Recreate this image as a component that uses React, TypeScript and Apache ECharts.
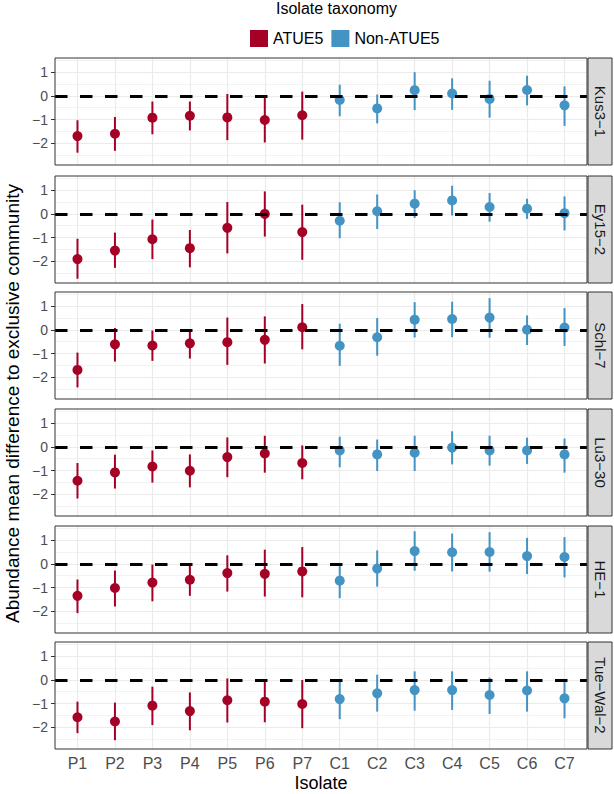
import React, { useEffect, useRef } from "react";
import * as echarts from "echarts";

const categories = ["P1", "P2", "P3", "P4", "P5", "P6", "P7", "C1", "C2", "C3", "C4", "C5", "C6", "C7"];
const panelNames = ["Kus3−1", "Ey15−2", "Schl−7", "Lu3−30", "HE−1", "Tue−Wal−2"];
const groupNames = ["ATUE5", "Non-ATUE5"];
const yTicks = [-2, -1, 0, 1];
const yMinor = [-2.5, -1.5, -0.5, 0.5, 1.5];

const kusMean = [-1.70, -1.60, -0.92, -0.84, -0.91, -1.02, -0.82, -0.17, -0.53, 0.24, 0.10, -0.13, 0.25, -0.40];
const kusLow = [-2.40, -2.32, -1.62, -1.46, -1.87, -1.97, -1.85, -0.86, -1.16, -0.60, -0.59, -0.92, -0.40, -1.27];
const kusHigh = [-1.03, -0.89, -0.24, -0.24, 0.08, -0.01, 0.18, 0.47, 0.06, 1.00, 0.74, 0.64, 0.85, 0.40];

const eyMean = [-1.91, -1.55, -1.07, -1.45, -0.59, 0.00, -0.77, -0.29, 0.11, 0.43, 0.57, 0.29, 0.22, 0.03];
const eyLow = [-2.74, -2.28, -1.91, -2.26, -1.67, -0.96, -1.94, -1.03, -0.64, -0.17, -0.07, -0.33, -0.21, -0.70];
const eyHigh = [-1.05, -0.79, -0.24, -0.68, 0.50, 0.95, 0.39, 0.49, 0.82, 1.00, 1.19, 0.88, 0.64, 0.74];

const schlMean = [-1.69, -0.61, -0.66, -0.57, -0.52, -0.42, 0.11, -0.67, -0.31, 0.43, 0.46, 0.52, 0.01, 0.10];
const schlLow = [-2.43, -1.34, -1.31, -1.21, -1.48, -1.42, -0.82, -1.52, -1.09, -0.32, -0.31, -0.33, -0.64, -0.68];
const schlHigh = [-0.96, 0.08, -0.03, -0.03, 0.52, 0.57, 1.09, 0.26, 0.50, 1.17, 1.19, 1.34, 0.61, 0.92];

const luMean = [-1.43, -1.08, -0.83, -1.01, -0.43, -0.28, -0.68, -0.15, -0.32, -0.25, -0.03, -0.15, -0.15, -0.32];
const luLow = [-2.18, -1.76, -1.51, -1.71, -1.28, -1.09, -1.37, -0.86, -1.02, -1.02, -0.74, -0.79, -0.72, -1.09];
const luHigh = [-0.68, -0.33, -0.15, -0.32, 0.40, 0.47, 0.06, 0.43, 0.31, 0.47, 0.66, 0.47, 0.39, 0.35];

const heMean = [-1.35, -1.02, -0.79, -0.67, -0.39, -0.42, -0.32, -0.71, -0.20, 0.54, 0.49, 0.50, 0.33, 0.29];
const heLow = [-2.08, -1.80, -1.58, -1.35, -1.17, -1.38, -1.41, -1.45, -0.96, -0.29, -0.32, -0.33, -0.43, -0.57];
const heHigh = [-0.66, -0.28, -0.03, -0.07, 0.36, 0.60, 0.71, -0.08, 0.57, 1.38, 1.28, 1.34, 1.10, 1.13];

const tueMean = [-1.58, -1.76, -1.09, -1.32, -0.86, -0.92, -1.02, -0.81, -0.57, -0.43, -0.43, -0.64, -0.45, -0.78];
const tueLow = [-2.25, -2.55, -1.91, -2.13, -1.80, -1.79, -2.04, -1.66, -1.34, -1.30, -1.27, -1.44, -1.34, -1.62];
const tueHigh = [-0.92, -0.96, -0.29, -0.53, 0.06, -0.04, -0.01, -0.07, 0.22, 0.36, 0.36, 0.10, 0.36, -0.01];

const panelMeans = [kusMean, eyMean, schlMean, luMean, heMean, tueMean];
const panelLows = [kusLow, eyLow, schlLow, luLow, heLow, tueLow];
const panelHighs = [kusHigh, eyHigh, schlHigh, luHigh, heHigh, tueHigh];

const RED = "#A50026";
const BLUE = "#4393C3";
const FONT = "Liberation Sans";
const PANEL_LEFT = 55;
const PANEL_WIDTH = 532;
const PANEL_HEIGHT = 107;
const PANEL_TOPS = [58, 176, 292, 409, 526, 642];
const X_MIN = 0.4;
const X_MAX = 14.6;
const Y_MIN = -2.92;
const Y_MAX = 1.6;

function fmtNum(v: number) {
  return v < 0 ? "−" + Math.abs(v) : String(v);
}

export default function App() {
  const ref = useRef<HTMLDivElement>(null);
  useEffect(() => {
    if (!ref.current) return;
    const chart = echarts.init(ref.current, null, { renderer: "svg" });
    const xs = categories.map((_, j) => j + 1);
    const n = panelNames.length;
    const grids: any[] = [];
    const xAxes: any[] = [];
    const yAxes: any[] = [];
    const series: any[] = [];
    const graphics: any[] = [];

    for (let i = 0; i < n; i++) {
      const top = PANEL_TOPS[i];
      const last = i === n - 1;
      grids.push({ left: PANEL_LEFT, width: PANEL_WIDTH, top, height: PANEL_HEIGHT, show: false });
      xAxes.push({
        gridIndex: i,
        type: "value",
        min: X_MIN,
        max: X_MAX,
        axisLine: { show: false },
        splitLine: { show: false },
        axisTick: { show: last, customValues: xs, length: 4, lineStyle: { color: "#333333", width: 1 } },
        axisLabel: {
          show: last,
          customValues: xs,
          formatter: (v: number) => categories[Math.round(v) - 1] || "",
          fontSize: 16,
          color: "#4D4D4D",
          fontFamily: FONT,
          margin: 6,
        },
      });
      yAxes.push({
        gridIndex: i,
        type: "value",
        min: Y_MIN,
        max: Y_MAX,
        axisLine: { show: false },
        splitLine: { show: false },
        axisTick: { show: true, customValues: yTicks, length: 4, lineStyle: { color: "#333333", width: 1 } },
        axisLabel: {
          customValues: yTicks,
          formatter: (v: number) => fmtNum(v),
          fontSize: 14,
          color: "#4D4D4D",
          fontFamily: FONT,
          margin: 7,
        },
      });

      const gridLineData: any[] = [];
      yMinor.forEach((v) => gridLineData.push({ yAxis: v, lineStyle: { color: "#EDEDED", width: 0.7, type: "solid" } }));
      yTicks.forEach((v) => gridLineData.push({ yAxis: v, lineStyle: { color: "#EBEBEB", width: 1.2, type: "solid" } }));
      xs.forEach((v) => gridLineData.push({ xAxis: v, lineStyle: { color: "#EBEBEB", width: 1.2, type: "solid" } }));

      series.push({
        type: "line",
        xAxisIndex: i,
        yAxisIndex: i,
        data: [],
        silent: true,
        z: 1,
        markLine: {
          z: 1,
          silent: true,
          symbol: ["none", "none"],
          label: { show: false },
          emphasis: { disabled: true },
          data: gridLineData,
        },
      });

      const means = panelMeans[i];
      const lows = panelLows[i];
      const highs = panelHighs[i];

      series.push({
        type: "custom",
        xAxisIndex: i,
        yAxisIndex: i,
        silent: true,
        z: 2,
        data: xs.map((x, j) => [x, lows[j], highs[j]]),
        encode: { x: 0, y: [1, 2] },
        renderItem: (params: any, api: any) => {
          const x = api.value(0);
          const p1 = api.coord([x, api.value(1)]);
          const p2 = api.coord([x, api.value(2)]);
          return {
            type: "line",
            shape: { x1: p1[0], y1: p1[1], x2: p2[0], y2: p2[1] },
            style: { stroke: x <= 7 ? RED : BLUE, lineWidth: 2 },
          };
        },
      });

      series.push({
        type: "scatter",
        name: groupNames[0],
        xAxisIndex: i,
        yAxisIndex: i,
        z: 3,
        symbolSize: 10,
        itemStyle: { color: RED, opacity: 1 },
        data: xs.slice(0, 7).map((x, j) => [x, means[j]]),
      });
      series.push({
        type: "scatter",
        name: groupNames[1],
        xAxisIndex: i,
        yAxisIndex: i,
        z: 3,
        symbolSize: 10,
        itemStyle: { color: BLUE, opacity: 1 },
        data: xs.slice(7).map((x, j) => [x, means[j + 7]]),
      });

      series.push({
        type: "line",
        xAxisIndex: i,
        yAxisIndex: i,
        data: [],
        silent: true,
        z: 10,
        markLine: {
          z: 10,
          silent: true,
          symbol: ["none", "none"],
          label: { show: false },
          emphasis: { disabled: true },
          lineStyle: { color: "#000000", width: 3, type: [12.5, 12.5], cap: "butt" },
          data: [{ yAxis: 0 }],
        },
      });

      graphics.push({
        type: "rect",
        z: 100,
        silent: true,
        shape: { x: PANEL_LEFT, y: top, width: PANEL_WIDTH, height: PANEL_HEIGHT },
        style: { fill: "none", stroke: "#333333", lineWidth: 1 },
      });
      graphics.push({
        type: "rect",
        z: 100,
        silent: true,
        shape: { x: PANEL_LEFT + PANEL_WIDTH + 1, y: top, width: 24, height: PANEL_HEIGHT },
        style: { fill: "#D9D9D9", stroke: "#333333", lineWidth: 1 },
      });
      graphics.push({
        type: "text",
        z: 101,
        silent: true,
        x: PANEL_LEFT + PANEL_WIDTH + 13,
        y: top + PANEL_HEIGHT / 2,
        rotation: -Math.PI / 2,
        style: {
          text: panelNames[i],
          fontSize: 15,
          fontFamily: FONT,
          fill: "#1A1A1A",
          align: "center",
          verticalAlign: "middle",
          textAlign: "center",
          textVerticalAlign: "middle",
        },
      });
    }

    graphics.push({
      type: "text",
      x: 12,
      y: (PANEL_TOPS[0] + PANEL_TOPS[n - 1] + PANEL_HEIGHT) / 2,
      rotation: Math.PI / 2,
      silent: true,
      style: {
        text: "Abundance mean difference to exclusive community",
        fontSize: 19,
        fontFamily: FONT,
        fill: "#000000",
        align: "center",
        verticalAlign: "middle",
        textAlign: "center",
        textVerticalAlign: "middle",
      },
    });
    graphics.push({
      type: "text",
      x: PANEL_LEFT + PANEL_WIDTH / 2,
      y: 783,
      silent: true,
      style: {
        text: "Isolate",
        fontSize: 18,
        fontFamily: FONT,
        fill: "#000000",
        align: "center",
        verticalAlign: "middle",
        textAlign: "center",
        textVerticalAlign: "middle",
      },
    });
    graphics.push({
      type: "text",
      x: 276,
      y: 8,
      silent: true,
      style: {
        text: "Isolate taxonomy",
        fontSize: 16,
        fontFamily: FONT,
        fill: "#000000",
        align: "left",
        verticalAlign: "middle",
        textAlign: "left",
        textVerticalAlign: "middle",
      },
    });

    chart.setOption({
      animation: false,
      textStyle: { fontFamily: FONT },
      legend: {
        data: groupNames,
        left: 250,
        top: 30,
        icon: "rect",
        itemWidth: 18,
        itemHeight: 17,
        itemGap: 8,
        selectedMode: false,
        textStyle: { fontSize: 16, color: "#000000", fontFamily: FONT },
        padding: 0,
      },
      grid: grids,
      xAxis: xAxes,
      yAxis: yAxes,
      series,
      graphic: graphics,
    });
    return () => chart.dispose();
  }, []);
  return (
    <div
      ref={ref}
      style={{ position: "fixed", left: 0, top: 0, width: 614, height: 794, background: "#ffffff" }}
    />
  );
}
